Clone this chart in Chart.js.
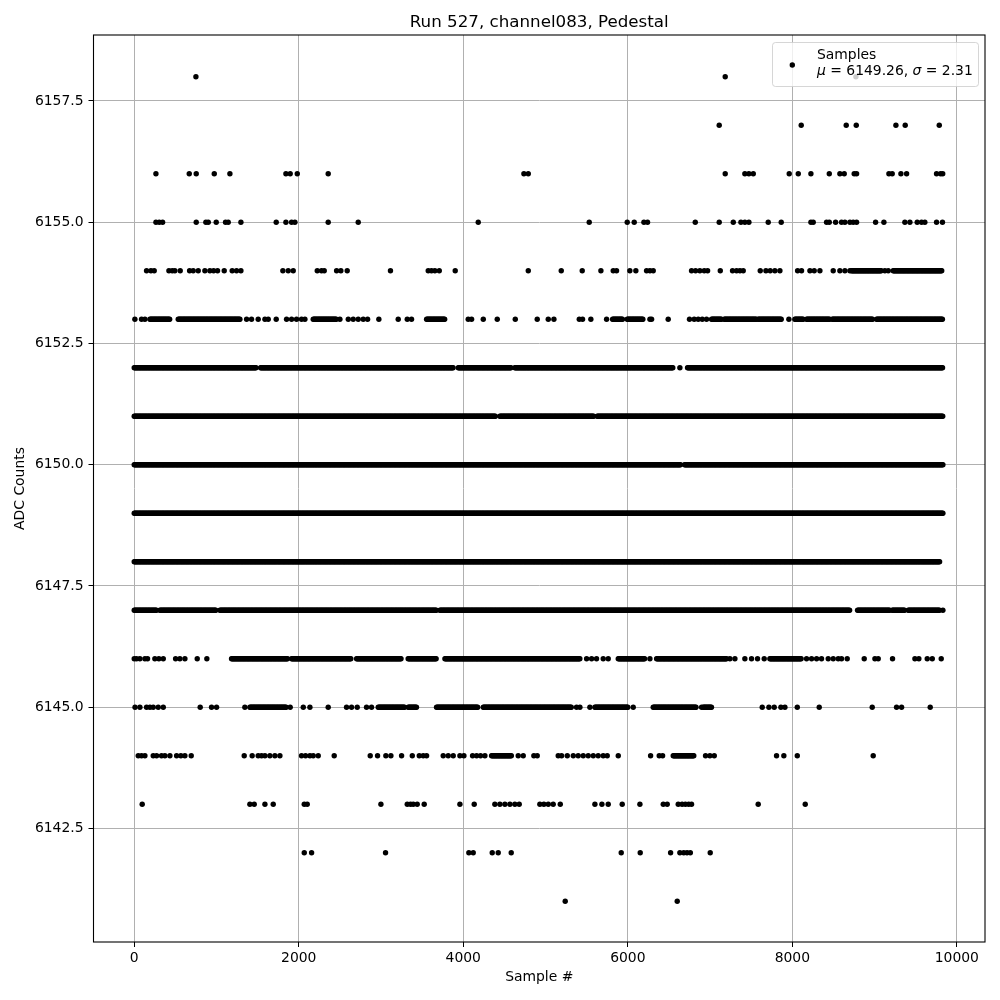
<!DOCTYPE html>
<html>
<head>
<meta charset="utf-8">
<script src="https://cdn.jsdelivr.net/npm/chart.js"></script>
<style>body{margin:0;background:#fff}</style>
</head>
<body>
<canvas id="myChart" width="1000" height="1000"></canvas>
<script>
// Sample numbers, one array per ADC level.
// A plain number is a single dot, a [start, end] pair is a run where the row is solid.
const row6158 = [750, 7184, 8773];
const row6157 = [7111, 8108, 8655, 8777, 9259, 9372, 9786];
const row6156 = [264, 669, 754, 973, 1163, 1844, 1896, 1982, 2358, 4737, 4790, 7184, 7423, 7472, 7525,
  7962, 8072, 8226, 8449, 8578, 8631, 8752, 8781, 9174, 9214, 9320, 9389, 9753, 9802, 9828];
const row6155 = [264, 304, 345, 754, 871, 900, 997, 1110, 1143, 1297, 1726, 1844, 1913, 1953, 2358, 2723,
  4182, 5531, 5993, 6078, 6196, 6240, 6820, 7111, 7282, 7375, 7423, 7472, 7707, 7865, 8226, 8254, 8416,
  8449, 8526, 8598, 8639, 8700, 8740, 8781, 9012, 9113, 9368, 9429, 9518, 9571, 9611, 9753, 9825];
const row6154 = [150, 203, 243, 422, 462, 494, 559, 673, 717, 778, 859, 920, 965, 1013, 1094, 1191, 1244,
  1297, 1807, 1872, 1933, 2225, 2277, 2310, 2460, 2512, 2589, 3115, 3574, 3614, 3655, 3708, 3902, 4790,
  5191, 5446, 5673, 5823, 5863, 6025, 6098, 6228, 6269, 6309, 6775, 6824, 6876, 6929, 6970, 7124, 7273,
  7322, 7363, 7403, 7610, 7679, 7731, 7788, 7849, 8064, 8112, 8214, 8266, 8335, 8497, 8578, 8639, 8700,
  [8720, 9085], 9125, 9166, [9226, 9822]];
const row6153 = [8, 89, 130, [191, 434], [535, 1285], 1366, 1426, 1507, 1589, 1629, 1726, 1852, 1913,
  1973, 2034, 2075, [2176, 2460], 2500, 2602, 2662, 2723, 2784, 2837, 2974, 3209, 3319, 3371, [3554, 3777],
  4060, 4101, 4243, 4413, 4632, 4899, 5033, 5102, 5410, 5450, 5551, 5742, [5815, 5944], [5993, 6188],
  6269, 6289, 6491, 6750, 6807, 6856, 6905, 6957, [7018, 7140], [7172, 7565], [7585, 7869], 7958,
  [8031, 8132], [8173, 8457], [8485, 8983], [9024, 9825]];
const row6152 = [[0, 1487], [1536, 3878], [3939, 4587], [4627, 6552], 6633, [6726, 9830]];
const row6151 = [[0, 4397], [4445, 5588], [5628, 9830]];
const row6150 = [[0, 6640], [6690, 9830]];
const row6149 = [[0, 9830]];
const row6148 = [[0, 9794]];
const row6147 = [[0, 272], [312, 1001], [1042, 3675], [3716, 8700], [8793, 9186], [9214, 9368],
  [9409, 9794], 9830];
const row6146 = [0, 28, 69, 130, 162, 251, 300, 353, 503, 555, 616, 766, 883, [1183, 1872], [1913, 2642],
  [2703, 3250], [3330, 3675], [3777, 5418], 5499, 5560, 5620, 5701, 5762, [5884, 6208], 6269, [6350, 7200],
  7241, 7302, 7423, 7504, 7577, 7658, [7727, 8112], 8173, 8234, 8295, 8355, 8436, 8497, 8558, 8598, 8667,
  8874, 9004, 9044, 9218, 9490, 9538, 9640, 9701, 9810];
const row6145 = [10, 69, 150, 191, 231, 292, 353, 802, 940, 1001, 1345, [1406, 1852], 1896, 2055, 2136,
  2358, 2581, 2642, 2711, 2824, 2885, [2966, 3290], [3331, 3432], [3675, 4182], [4243, 5316], 5377, 5418,
  5539, [5600, 6005], 6066, [6309, 6836], 6897, [6917, 7018], 7634, 7715, 7780, 7861, 7910, 8060, 8327,
  8971, 9267, 9328, 9676];
const row6144 = [49, 89, 130, 231, 272, 332, 373, 434, 515, 567, 616, 693, 1337, 1434, 1507, 1548, 1589,
  1649, 1710, 1771, 2034, 2083, 2136, 2176, 2237, 2431, 2869, 2958, 3059, 3120, 3250, 3380, 3465, 3513,
  3554, 3756, 3817, 3878, 3959, 4008, 4113, 4162, 4210, 4263, [4344, 4587], 4668, 4729, 4858, 4899, 5154,
  5195, 5264, 5337, 5397, 5458, 5519, 5580, 5640, 5701, 5750, 5884, 6277, 6382, 6423, [6552, 6807], 6945,
  6998, 7051, 7808, 7897, 8060, 8983];
const row6143 = [97, 1406, 1459, 1589, 1690, 2067, 2103, 2999, 3319, 3359, 3392, 3440, 3525, 3959, 4133,
  4384, 4445, 4506, 4567, 4627, 4680, 4931, 4980, 5033, 5093, 5179, 5600, 5685, 5762, 5932, 6147, 6431,
  6479, 6613, 6660, 6700, 6740, 6775, 7585, 8157];
const row6142 = [2067, 2156, 3055, 4068, 4121, 4352, 4425, 4583, 5920, 6151, 6520, 6633, 6680, 6720, 6760, 7002];
const row6141 = [5239, 6601];

const levels = [6141, 6142, 6143, 6144, 6145, 6146, 6147, 6148, 6149, 6150, 6151, 6152, 6153, 6154,
  6155, 6156, 6157, 6158];
const rows = [row6141, row6142, row6143, row6144, row6145, row6146, row6147, row6148, row6149, row6150,
  row6151, row6152, row6153, row6154, row6155, row6156, row6157, row6158];

const xTicks = [0, 2000, 4000, 6000, 8000, 10000];
const yTicks = [6142.5, 6145.0, 6147.5, 6150.0, 6152.5, 6155.0, 6157.5];

const titleText = 'Run 527, channel083, Pedestal';
const seriesLabel = 'Samples';
const meanValue = 6149.26;
const sigmaValue = 2.31;

// Solid runs are drawn as a dot every few samples.
const RUN_STEP = 10;
let points = [];
rows.forEach((row, i) => {
  for (const item of row) {
    if (Array.isArray(item)) {
      for (let s = item[0]; s <= item[1]; s += RUN_STEP) points.push({ x: s, y: levels[i] });
    } else {
      points.push({ x: item, y: levels[i] });
    }
  }
});

const FONT = "'DejaVu Sans', sans-serif";
Chart.defaults.font.family = FONT;
Chart.defaults.font.size = 13.9;
Chart.defaults.color = '#000';

// Axes frame, title and the legend box (semi transparent, like matplotlib).
const decorPlugin = {
  id: 'decor',
  afterDatasetsDraw(chart) {
    const { ctx, chartArea: a } = chart;
    ctx.save();
    ctx.strokeStyle = '#000';
    ctx.lineWidth = 1.1;
    ctx.strokeRect(a.left, a.top, a.right - a.left, a.bottom - a.top);
    ctx.restore();
  },
  afterDraw(chart) {
    const { ctx, chartArea: a } = chart;
    ctx.save();
    ctx.fillStyle = '#000';
    ctx.font = '16.7px ' + FONT;
    ctx.textAlign = 'center';
    ctx.textBaseline = 'alphabetic';
    ctx.fillText(titleText, (a.left + a.right) / 2, 27);

    // legend
    const bx = 772.5, by = 42.5, bw = 206, bh = 44;
    ctx.beginPath();
    ctx.roundRect(bx, by, bw, bh, 3);
    ctx.fillStyle = 'rgba(255,255,255,0.8)';
    ctx.fill();
    ctx.strokeStyle = 'rgba(204,204,204,0.8)';
    ctx.lineWidth = 1;
    ctx.stroke();

    ctx.beginPath();
    ctx.arc(792.3, 65, 2.7, 0, Math.PI * 2);
    ctx.fillStyle = '#000';
    ctx.fill();

    ctx.textAlign = 'left';
    ctx.font = '13.9px ' + FONT;
    ctx.fillText(seriesLabel, 817, 59);

    const parts = [
      ['\u03bc', true], [' = ' + meanValue.toFixed(2) + ', ', false],
      ['\u03c3', true], [' = ' + sigmaValue.toFixed(2), false],
    ];
    let tx = 817;
    for (const [txt, italic] of parts) {
      ctx.font = (italic ? 'italic ' : '') + '13.9px ' + FONT;
      ctx.fillText(txt, tx, 74.5);
      tx += ctx.measureText(txt).width;
    }
    ctx.restore();
  },
};

const ctx = document.getElementById('myChart');

const myChart = new Chart(ctx, {
  type: 'scatter',
  data: {
    datasets: [
      {
        label: seriesLabel,
        data: points,
        backgroundColor: '#000',
        borderWidth: 0,
        pointRadius: 2.7,
        pointHoverRadius: 2.7,
      },
    ],
  },
  plugins: [decorPlugin],
  options: {
    responsive: false,
    animation: false,
    events: [],
    layout: { padding: { top: 35, right: 15, left: 0, bottom: 0 } },
    plugins: {
      legend: { display: false },
      title: { display: false },
      tooltip: { enabled: false },
    },
    scales: {
      x: {
        type: 'linear',
        min: -495,
        max: 10342,
        afterBuildTicks: (scale) => {
          scale.ticks = xTicks.map((v) => ({ value: v }));
        },
        afterFit: (scale) => {
          scale.height = 58;
        },
        ticks: {
          padding: 3.5,
          maxRotation: 0,
          callback: (v) => String(v),
        },
        grid: { color: '#b0b0b0', lineWidth: 1, tickLength: 5, tickColor: '#000' },
        border: { display: false },
        title: { display: true, text: 'Sample #', padding: { top: 0, bottom: 14.5 } },
      },
      y: {
        type: 'linear',
        min: 6140.16,
        max: 6158.86,
        afterBuildTicks: (scale) => {
          scale.ticks = yTicks.map((v) => ({ value: v }));
        },
        afterFit: (scale) => {
          scale.width = 93.5;
        },
        ticks: {
          padding: 5,
          callback: (v) => Number(v).toFixed(1),
        },
        grid: { color: '#b0b0b0', lineWidth: 1, tickLength: 5, tickColor: '#000' },
        border: { display: false },
        title: { display: true, text: 'ADC Counts', padding: { top: 12.5, bottom: 0 } },
      },
    },
  },
});
</script>
</body>
</html>
